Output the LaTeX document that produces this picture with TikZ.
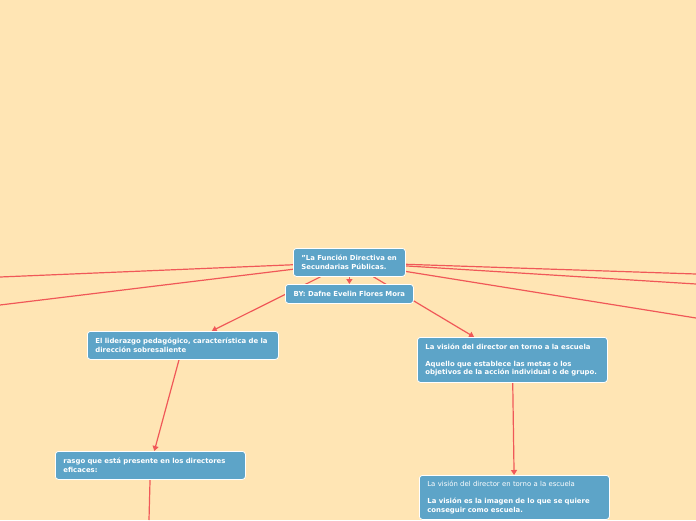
\documentclass[tikz,border=0pt]{standalone}
\usepackage{fontspec}
\setmainfont{DejaVu Sans}
\usetikzlibrary{arrows.meta}
\pgfdeclarelayer{paper}
\pgfdeclarelayer{links}
\pgfsetlayers{paper,links,main}

\begin{document}
\begin{tikzpicture}[x=1pt,y=-1pt]
	\definecolor{PEACH}{RGB}{255,229,180}
	\definecolor{TOPIC}{RGB}{93,164,200}
	\definecolor{LINK}{RGB}{240,88,88}
	\tikzset{
		topic/.style={draw=white, line width=0.8, fill=TOPIC, rounded corners=3,
			text=white, font=\bfseries\fontsize{6.9}{8.5}\selectfont, align=left,
			anchor=north west, inner xsep=8, inner ysep=3},
		link/.style={LINK, line width=1.2},
		linkarrow/.style={link, -{Triangle[width=6,length=5]}}
	}
	\begin{pgfonlayer}{paper}
		\fill[PEACH] (0,0) rectangle (696,520);
	\end{pgfonlayer}
	\useasboundingbox (0,0) rectangle (696,520);
	% main topic
	\node[topic, text width=96, minimum height=28] (main) at (293,248)
	{"La Función Directiva en\\Secundarias Públicas.};
	\node[topic, align=center, text width=112, minimum height=19] (author) at (285,284)
	{BY: Dafne Evelin Flores Mora};
	% left branch
	\node[topic, text width=175, minimum height=28] (lider) at (87,331)
	{El liderazgo pedagógico, característica de la\\dirección sobresaliente};
	\node[topic, text width=174, minimum height=28] (rasgo) at (55,451)
	{rasgo que está presente en los directores\\eficaces:};
	% right branch
	\node[topic, text width=174, minimum height=45] (vision) at (417,337)
	{La visión del director en torno a la escuela\\[8.5pt]
	Aquello que establece las metas o los\\objetivos de la acción individual o de grupo.};
	\node[topic, text width=174, minimum height=44] (imagen) at (419,475)
	{{\mdseries La visión del director en torno a la escuela}\\[8.5pt]
	La visión es la imagen de lo que se quiere\\conseguir como escuela.};
	% loose ends
	\coordinate (L1) at (0,277);
	\coordinate (L2) at (0,305);
	\coordinate (R1) at (696,274);
	\coordinate (R2) at (696,284);
	\coordinate (R3) at (696,318);
	\coordinate (B1) at (149,520);
	% connectors
	\begin{pgfonlayer}{links}
		\draw[link] (main) -- (L1);
		\draw[link] (main) -- (L2);
		\draw[link] (main) -- (R1);
		\draw[link] (main) -- (R2);
		\draw[link] (main) -- (R3);
		\draw[linkarrow] (main) -- (author);
		\draw[linkarrow] (main) -- (lider);
		\draw[linkarrow] (main) -- (vision);
		\draw[linkarrow] (lider) -- (rasgo);
		\draw[link] (rasgo) -- (B1);
		\draw[linkarrow] (vision) -- (imagen);
	\end{pgfonlayer}
\end{tikzpicture}
\end{document}
